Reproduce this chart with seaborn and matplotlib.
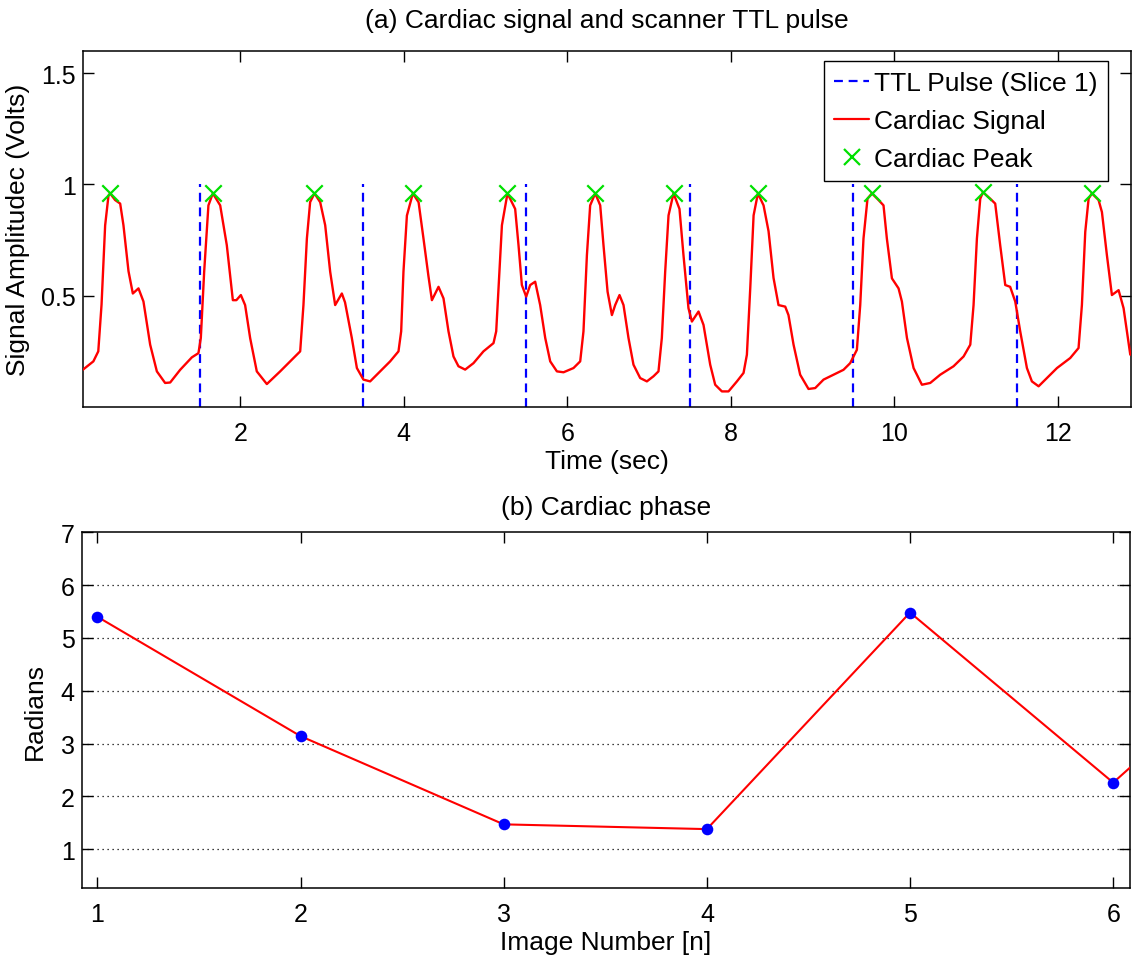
import matplotlib
matplotlib.use("Agg")
import matplotlib.pyplot as plt
import seaborn as sns
import pandas as pd
from matplotlib.lines import Line2D

# ---------------- data ----------------
signal_time = [
    0.07, 0.20, 0.26, 0.30, 0.344, 0.385, 0.405, 0.466, 0.528, 0.568, 0.63, 0.683, 0.752, 0.813, 0.895, 0.977, 1.078, 1.14, 1.262, 1.405, 1.486,
    1.515, 1.556, 1.608, 1.662, 1.752, 1.833, 1.907, 1.95, 2.005, 2.057, 2.119, 2.20, 2.323, 2.486, 2.649, 2.731,
    2.771, 2.813, 2.853, 2.906, 2.976, 3.037, 3.098, 3.159, 3.241, 3.28, 3.363, 3.425, 3.505, 3.587, 3.71, 3.832, 3.934,
    3.967, 3.995, 4.037, 4.11, 4.18, 4.24, 4.30, 4.343, 4.424, 4.485, 4.546, 4.607, 4.668, 4.75, 4.852, 4.974, 5.097, 5.13,
    5.158, 5.20, 5.268, 5.362, 5.403, 5.444, 5.497, 5.546, 5.607, 5.668, 5.73, 5.791, 5.873, 5.954, 6.076, 6.158,
    6.198, 6.24, 6.28, 6.342, 6.403, 6.443, 6.493, 6.546, 6.586, 6.639, 6.688, 6.749, 6.81, 6.892, 6.974, 7.055, 7.116,
    7.157, 7.198, 7.239, 7.30, 7.373, 7.422, 7.483, 7.525, 7.606, 7.667, 7.749, 7.81, 7.892, 7.973, 8.076, 8.157,
    8.198, 8.239, 8.28, 8.333, 8.402, 8.463, 8.524, 8.585, 8.667, 8.707, 8.769, 8.85, 8.952, 9.034, 9.136, 9.258, 9.38, 9.462, 9.544,
    9.585, 9.625, 9.674, 9.728, 9.809, 9.87, 9.911, 9.973, 10.054, 10.095, 10.157, 10.238, 10.34, 10.442, 10.564, 10.727, 10.85, 10.932,
    10.972, 11.013, 11.054, 11.087, 11.176, 11.237, 11.298, 11.36, 11.42, 11.482, 11.543, 11.625, 11.686, 11.768, 11.87, 11.993, 12.155, 12.257,
    12.298, 12.339, 12.38, 12.42, 12.502, 12.543, 12.604, 12.665, 12.747, 12.808, 12.89,
]
signal_volts = [
    0.167, 0.205, 0.25, 0.46, 0.816, 0.95, 0.96, 0.93, 0.914, 0.817, 0.61, 0.51, 0.533, 0.474, 0.28, 0.16, 0.108, 0.11, 0.167, 0.223, 0.242,
    0.31, 0.608, 0.906, 0.96, 0.906, 0.727, 0.48, 0.48, 0.503, 0.458, 0.309, 0.16, 0.103, 0.16, 0.22, 0.25,
    0.458, 0.757, 0.921, 0.96, 0.92, 0.817, 0.608, 0.458, 0.51, 0.47, 0.31, 0.175, 0.123, 0.115, 0.16, 0.205, 0.25,
    0.34, 0.608, 0.86, 0.96, 0.92, 0.757, 0.59, 0.48, 0.54, 0.488, 0.34, 0.227, 0.183, 0.168, 0.197, 0.25, 0.287, 0.34,
    0.533, 0.817, 0.96, 0.89, 0.727, 0.548, 0.496, 0.548, 0.563, 0.458, 0.31, 0.205, 0.16, 0.156, 0.175, 0.205,
    0.34, 0.682, 0.906, 0.96, 0.906, 0.727, 0.518, 0.413, 0.458, 0.503, 0.458, 0.31, 0.19, 0.13, 0.115, 0.138, 0.16,
    0.31, 0.608, 0.861, 0.96, 0.89, 0.682, 0.444, 0.384, 0.429, 0.369, 0.19, 0.10, 0.07, 0.07, 0.115, 0.153,
    0.235, 0.533, 0.861, 0.96, 0.906, 0.79, 0.58, 0.458, 0.451, 0.413, 0.28, 0.145, 0.081, 0.085, 0.123, 0.145, 0.167, 0.197, 0.257,
    0.458, 0.757, 0.936, 0.96, 0.93, 0.906, 0.757, 0.578, 0.533, 0.474, 0.31, 0.175, 0.10, 0.108, 0.145, 0.183, 0.227, 0.28,
    0.458, 0.757, 0.936, 0.965, 0.936, 0.914, 0.727, 0.548, 0.54, 0.474, 0.34, 0.175, 0.115, 0.093, 0.13, 0.175, 0.22, 0.265,
    0.458, 0.787, 0.936, 0.96, 0.93, 0.876, 0.682, 0.503, 0.525, 0.444, 0.235,
]
peak_time = [0.405, 1.662, 2.906, 4.11, 5.268, 6.342, 7.30, 8.333, 9.728, 11.087, 12.42]
peak_volts = [0.96, 0.96, 0.96, 0.96, 0.96, 0.96, 0.96, 0.96, 0.96, 0.965, 0.96]
ttl_time = [1.5, 3.5, 5.5, 7.5, 9.5, 11.5]
ttl_top = 1.0

image_number = [1, 2, 3, 4, 5, 6, 7]
phase_rad = [5.40, 3.14, 1.47, 1.38, 5.48, 2.26, 5.70]

top_xticks = [2, 4, 6, 8, 10, 12]
top_yticks = [0.5, 1.0, 1.5]
top_yticklabels = ["0.5", "1", "1.5"]
bottom_xticks = [1, 2, 3, 4, 5, 6]
bottom_yticks = [1, 2, 3, 4, 5, 6, 7]

# ---------------- style ----------------
sns.set_theme(style="white")
plt.rcParams["font.family"] = ["Liberation Sans", "DejaVu Sans"]
plt.rcParams["axes.edgecolor"] = "black"
plt.rcParams["axes.linewidth"] = 1.1
plt.rcParams["text.color"] = "black"
plt.rcParams["axes.labelcolor"] = "black"
plt.rcParams["xtick.color"] = "black"
plt.rcParams["ytick.color"] = "black"

RED = "#ff0000"
BLUE = "#0000ff"
GREEN = "#00e000"
FS = 19

fig = plt.figure(figsize=(11.32, 9.62), dpi=100)
ax1 = fig.add_axes([0.0731, 0.5759, 0.9261, 0.3701])
ax2 = fig.add_axes([0.0722, 0.0756, 0.9261, 0.3701])

# ---------------- top panel ----------------
sig_df = pd.DataFrame({"t": signal_time, "v": signal_volts})
pk_df = pd.DataFrame({"t": peak_time, "v": peak_volts})

ax1.vlines(ttl_time, 0, ttl_top, colors=BLUE, linestyles=(0, (4, 2.6)), linewidth=1.6, zorder=2)
sns.lineplot(data=sig_df, x="t", y="v", ax=ax1, color=RED, linewidth=1.7,
             sort=False, estimator=None, zorder=3)
sns.scatterplot(data=pk_df, x="t", y="v", ax=ax1, marker="x", color=GREEN,
                s=140, linewidth=1.6, zorder=4)

ax1.set_xlim(0.07, 12.9)
ax1.set_ylim(0, 1.6)
ax1.set_xticks(top_xticks)
ax1.set_xticklabels([str(t) for t in top_xticks])
ax1.set_yticks(top_yticks)
ax1.set_yticklabels(top_yticklabels)
ax1.set_xlabel("Time (sec)", fontsize=FS, labelpad=3)
ax1.set_ylabel("Signal Amplitudec (Volts)", fontsize=FS, labelpad=8)
ax1.set_title("(a) Cardiac signal and scanner TTL pulse", fontsize=FS, pad=17)

handles = [
    Line2D([], [], color=BLUE, linestyle=(0, (4, 2.6)), linewidth=1.6),
    Line2D([], [], color=RED, linewidth=1.6),
    Line2D([], [], color=GREEN, marker="x", linestyle="none", markersize=12, markeredgewidth=1.6),
]
leg = ax1.legend(handles, ["TTL Pulse (Slice 1)", "Cardiac Signal", "Cardiac Peak"],
                 loc="upper right", bbox_to_anchor=(0.978, 0.972), borderaxespad=0,
                 fontsize=FS, frameon=True, fancybox=False, framealpha=1,
                 edgecolor="black", handlelength=1.3, handletextpad=0.2,
                 labelspacing=0.52, borderpad=0.4)
leg.get_frame().set_linewidth(1.0)

# ---------------- bottom panel ----------------
ph_df = pd.DataFrame({"n": image_number, "phase": phase_rad})
for y in bottom_yticks[:-1]:
    ax2.axhline(y, color="black", linestyle=(0, (1, 3)), linewidth=0.9, zorder=1)
sns.lineplot(data=ph_df, x="n", y="phase", ax=ax2, color=RED, linewidth=1.5,
             sort=False, estimator=None, zorder=3)
sns.scatterplot(data=ph_df, x="n", y="phase", ax=ax2, color=BLUE, s=70,
                edgecolor=BLUE, linewidth=0, zorder=4)

ax2.set_xlim(0.923, 6.083)
ax2.set_ylim(0.26, 7)
ax2.set_xticks(bottom_xticks)
ax2.set_yticks(bottom_yticks)
ax2.set_xlabel("Image Number [n]", fontsize=FS, labelpad=3)
ax2.set_ylabel("Radians", fontsize=FS, labelpad=10)
ax2.set_title("(b) Cardiac phase", fontsize=FS, pad=13)

for ax in (ax1, ax2):
    ax.tick_params(axis="both", which="both", direction="in", length=8, width=1,
                   top=True, right=True, bottom=True, left=True,
                   labelsize=18, colors="black")
    ax.tick_params(axis="x", pad=10)
    ax.tick_params(axis="y", pad=5)
    for s in ax.spines.values():
        s.set_visible(True)
        s.set_color("black")
    ax.grid(False)

fig.savefig("out.png", dpi=100, facecolor="white")
